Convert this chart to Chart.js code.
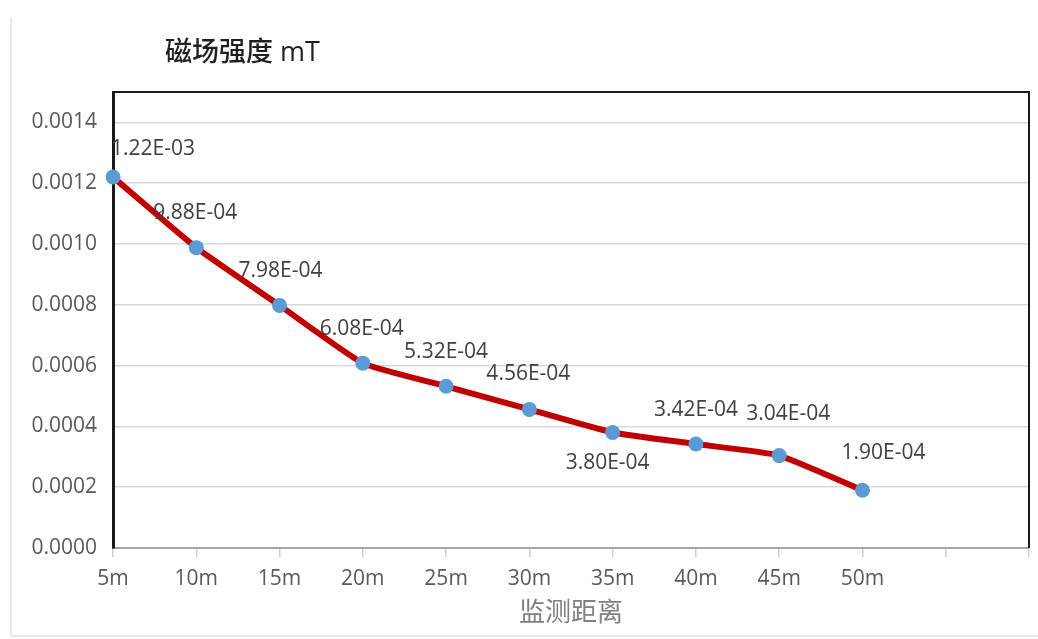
<!DOCTYPE html>
<html>
<head>
<meta charset="utf-8">
<script src="https://cdn.jsdelivr.net/npm/chart.js@4/dist/chart.umd.min.js"></script>
<style>
  html, body { margin: 0; padding: 0; background: #ffffff; }
  #wrap { width: 1038px; height: 639px; position: relative; }
</style>
</head>
<body>
<div id="wrap"><canvas id="c" width="1038" height="639"></canvas></div>
<script>
// Monitoring distances (two trailing empty slots extend the axis)
const distances = ['5m', '10m', '15m', '20m', '25m', '30m', '35m', '40m', '45m', '50m', '', ''];
// Magnetic field strength in mT
const fieldStrength = [1.22e-3, 9.88e-4, 7.98e-4, 6.08e-4, 5.32e-4, 4.56e-4, 3.80e-4, 3.42e-4, 3.04e-4, 1.90e-4];
// Y axis ticks
const yTicks = [0, 0.0002, 0.0004, 0.0006, 0.0008, 0.0010, 0.0012, 0.0014];
const yMax = 0.0015;

const chartTitle = '磁场强度 mT';
const xTitle = '监测距离';

const FONT = "'Open Sans', 'Noto Sans CJK SC', sans-serif";

// Label placement relative to each point (dx, dy of text centre)
const labelShift = [[40, -28], [-1, -35], [1, -34], [-1, -34], [0, -34], [-1, -35], [-5, 31], [0, -34], [9, -42], [21, -37]];

function sci(v) {
  const e = Math.floor(Math.log10(v));
  const m = v / Math.pow(10, e);
  const sign = e < 0 ? '-' : '+';
  const ab = Math.abs(e);
  return m.toFixed(2) + 'E' + sign + (ab < 10 ? '0' + ab : '' + ab);
}

const decorPlugin = {
  id: 'decor',
  beforeDraw(chart) {
    const ctx = chart.ctx;
    ctx.save();
    ctx.fillStyle = '#ffffff';
    ctx.fillRect(0, 0, chart.width, chart.height);
    // faint outer frame lines
    ctx.strokeStyle = '#e3e3e3';
    ctx.lineWidth = 1.5;
    ctx.beginPath();
    ctx.moveTo(11, 18);
    ctx.lineTo(11, 636);
    ctx.lineTo(chart.width, 636);
    ctx.stroke();
    ctx.restore();
  },
  afterDraw(chart) {
    const ctx = chart.ctx;
    const a = chart.chartArea;
    ctx.save();
    // top and right frame of the plot area
    ctx.strokeStyle = '#1a1a1a';
    ctx.lineWidth = 2;
    ctx.beginPath();
    ctx.moveTo(a.left, a.top);
    ctx.lineTo(a.right, a.top);
    ctx.lineTo(a.right, a.bottom);
    ctx.stroke();
    // chart title
    ctx.fillStyle = '#1f1f1f';
    ctx.font = '500 27px ' + FONT;
    ctx.textAlign = 'left';
    ctx.textBaseline = 'middle';
    ctx.fillText(chartTitle, 165, 53);
    // x axis title
    ctx.fillStyle = '#7f7f7f';
    ctx.font = '26px ' + FONT;
    ctx.textAlign = 'center';
    ctx.fillText(xTitle, (a.left + a.right) / 2, 614);
    ctx.restore();
  },
  afterDatasetsDraw(chart) {
    const ctx = chart.ctx;
    const meta = chart.getDatasetMeta(0);
    ctx.save();
    ctx.fillStyle = '#404040';
    ctx.font = '21px ' + FONT;
    ctx.textAlign = 'center';
    ctx.textBaseline = 'middle';
    meta.data.forEach((pt, i) => {
      const s = labelShift[i] || [0, -34];
      ctx.fillText(sci(fieldStrength[i]), pt.x + s[0], pt.y + s[1]);
    });
    ctx.restore();
  }
};

new Chart(document.getElementById('c'), {
  type: 'line',
  data: {
    labels: distances,
    datasets: [{
      data: fieldStrength,
      borderColor: '#c00000',
      borderWidth: 6,
      tension: 0.15,
      pointRadius: 7.5,
      pointHoverRadius: 7.5,
      pointBackgroundColor: '#5b9bd5',
      pointBorderWidth: 0,
      fill: false
    }]
  },
  options: {
    responsive: false,
    animation: false,
    layout: { padding: { left: 0, right: 6, top: 92, bottom: 0 } },
    plugins: {
      legend: { display: false },
      tooltip: { enabled: false },
      title: { display: false }
    },
    scales: {
      x: {
        offset: false,
        grid: {
          drawOnChartArea: false,
          drawTicks: true,
          tickLength: 9,
          color: '#d0d0d0',
          lineWidth: 1.5
        },
        border: { color: '#a6a6a6', width: 2 },
        ticks: {
          autoSkip: false,
          maxRotation: 0,
          padding: 9,
          color: '#595959',
          font: { family: FONT, size: 21 }
        },
        afterFit(scale) { scale.height = 91; }
      },
      y: {
        min: 0,
        max: yMax,
        afterBuildTicks(scale) {
          scale.ticks = yTicks.concat([yMax]).map(v => ({ value: v }));
        },
        grid: {
          color: '#d9d9d9',
          lineWidth: 1.5,
          drawTicks: false
        },
        border: { color: '#1a1a1a', width: 3 },
        ticks: {
          padding: 16,
          color: '#595959',
          font: { family: FONT, size: 21 },
          callback(v) { return yTicks.some(t => Math.abs(t - v) < 1e-9) ? v.toFixed(4) : ''; }
        },
        afterFit(scale) { scale.width = 113; }
      }
    }
  },
  plugins: [decorPlugin]
});
</script>
</body>
</html>
